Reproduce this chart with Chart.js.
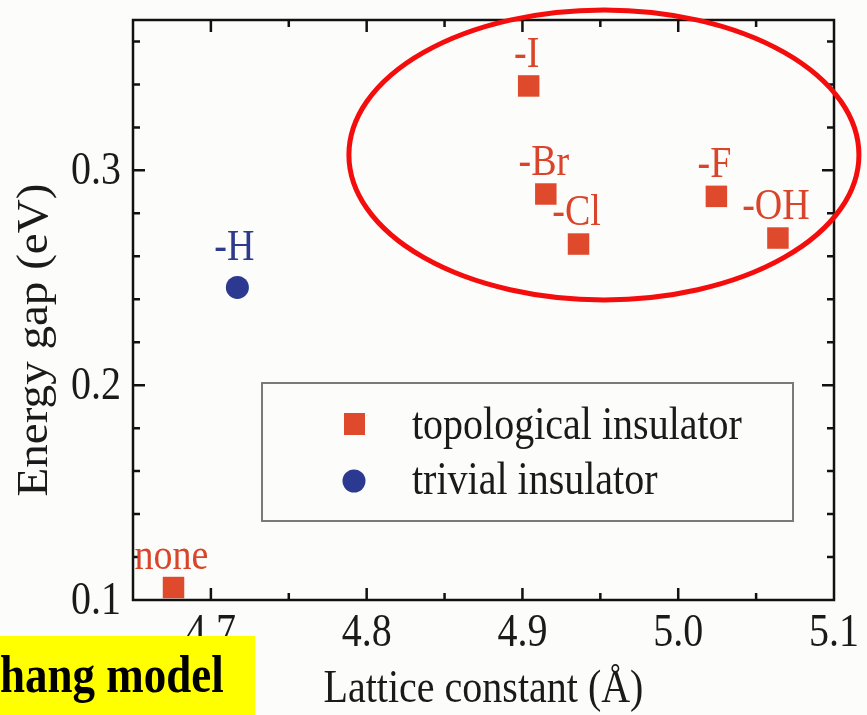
<!DOCTYPE html>
<html>
<head>
<meta charset="utf-8">
<script src="https://cdn.jsdelivr.net/npm/chart.js@4/dist/chart.umd.min.js"></script>
<style>
  html, body { margin: 0; padding: 0; background: #fcfcfa; }
  #wrap { position: relative; width: 867px; height: 715px; }
</style>
</head>
<body>
<div id="wrap"><canvas id="c" width="867" height="715"></canvas></div>
<script>
// values
const topoLabels = ['none', '-I', '-Br', '-Cl', '-F', '-OH'];
const topoLattice = [4.676, 4.904, 4.915, 4.936, 5.0245, 5.064];
const topoGap = [0.1058, 0.3393, 0.289, 0.2657, 0.2879, 0.2685];

const trivialLabels = ['-H'];
const trivialLattice = [4.717];
const trivialGap = [0.2455];

const xMajor = [4.7, 4.8, 4.9, 5.0, 5.1];
const xMinor = [4.75, 4.85, 4.95, 5.05];
const yMajor = [0.1, 0.2, 0.3];
const yMinor = [0.12, 0.14, 0.16, 0.18, 0.22, 0.24, 0.26, 0.28, 0.32, 0.34, 0.36];

// the red ring drawn around the halogen group (data units)
const ringCenter = [4.9523, 0.3072];
const ringRadius = [0.1637, 0.0675];

const RED = '#e04a2c';
const BLUE = '#2b3990';
const SY = 1.18; // the figure is stretched vertically
const FONT = '"Liberation Serif", "Times New Roman", serif';

function text(ctx, str, x, y, align, rotate, sy) {
  ctx.save();
  ctx.translate(x, y);
  ctx.scale(1, sy || SY);
  if (rotate) ctx.rotate(-Math.PI / 2);
  ctx.textAlign = align;
  ctx.textBaseline = 'alphabetic';
  ctx.fillText(str, 0, 0);
  ctx.restore();
}

const figure = {
  id: 'figure',
  beforeDraw(chart) {
    const ctx = chart.ctx;
    ctx.save();
    ctx.fillStyle = '#fcfcfa';
    ctx.fillRect(0, 0, chart.width, chart.height);
    ctx.restore();
  },
  afterDraw(chart) {
    const ctx = chart.ctx;
    const xs = chart.scales.x;
    const ys = chart.scales.y;
    const a = chart.chartArea;

    ctx.save();
    // frame
    ctx.strokeStyle = '#111';
    ctx.lineWidth = 2.5;
    ctx.strokeRect(a.left, a.top, a.right - a.left, a.bottom - a.top);

    // inward ticks on all four sides
    const tick = (vals, len) => {
      vals.forEach((v) => {
        const px = xs.getPixelForValue(v);
        ctx.beginPath();
        ctx.moveTo(px, a.bottom); ctx.lineTo(px, a.bottom - len);
        ctx.moveTo(px, a.top); ctx.lineTo(px, a.top + len);
        ctx.stroke();
      });
    };
    const ytick = (vals, len) => {
      vals.forEach((v) => {
        const py = ys.getPixelForValue(v);
        ctx.beginPath();
        ctx.moveTo(a.left, py); ctx.lineTo(a.left + len, py);
        ctx.moveTo(a.right, py); ctx.lineTo(a.right - len, py);
        ctx.stroke();
      });
    };
    tick(xMajor.filter((v) => v < 5.09), 12);
    tick(xMinor, 7);
    ytick(yMajor.filter((v) => v > 0.11), 12);
    ytick(yMinor, 7);

    // tick labels
    ctx.fillStyle = '#1a1a1a';
    ctx.font = '40px ' + FONT;
    xMajor.forEach((v) => text(ctx, v.toFixed(1), xs.getPixelForValue(v), a.bottom + 46, 'center'));
    yMajor.forEach((v) => text(ctx, v.toFixed(1), a.left - 12, ys.getPixelForValue(v) + 14, 'right'));

    // axis titles
    text(ctx, 'Lattice constant (Å)', (a.left + a.right) / 2, 702, 'center');
    ctx.font = '44px ' + FONT;
    text(ctx, 'Energy gap (eV)', 47, 340, 'center', true, 1.07);

    // point labels
    ctx.font = '38px ' + FONT;
    ctx.fillStyle = '#d9452b';
    topoLabels.forEach((l, i) => {
      text(ctx, l, xs.getPixelForValue(topoLattice[i]) - 2, ys.getPixelForValue(topoGap[i]) - 19, 'center');
    });
    ctx.fillStyle = '#2e3a8c';
    trivialLabels.forEach((l, i) => {
      text(ctx, l, xs.getPixelForValue(trivialLattice[i]) - 3, ys.getPixelForValue(trivialGap[i]) - 27, 'center');
    });

    // legend box
    ctx.strokeStyle = '#7a7a7a';
    ctx.lineWidth = 2;
    ctx.strokeRect(262, 383, 531, 138);
    const ds = chart.data.datasets;
    ctx.fillStyle = ds[0].backgroundColor;
    ctx.fillRect(344, 413, 21, 22);
    ctx.fillStyle = ds[1].backgroundColor;
    ctx.beginPath();
    ctx.arc(354, 481, 11.5, 0, Math.PI * 2);
    ctx.fill();
    ctx.fillStyle = '#1a1a1a';
    ctx.font = '40px ' + FONT;
    text(ctx, ds[0].label, 412, 439, 'left');
    text(ctx, ds[1].label, 412, 494, 'left');

    // red ring
    const cx = xs.getPixelForValue(ringCenter[0]);
    const cy = ys.getPixelForValue(ringCenter[1]);
    const rx = xs.getPixelForValue(ringCenter[0] + ringRadius[0]) - cx;
    const ry = cy - ys.getPixelForValue(ringCenter[1] + ringRadius[1]);
    ctx.strokeStyle = '#f40d0d';
    ctx.lineWidth = 5;
    ctx.beginPath();
    ctx.ellipse(cx, cy, rx, ry, 0, 0, Math.PI * 2);
    ctx.stroke();

    // slide caption overlapping the figure
    ctx.fillStyle = '#ffff00';
    ctx.fillRect(0, 636, 255, 79);
    ctx.fillStyle = '#000';
    ctx.font = 'bold 45px ' + FONT;
    text(ctx, 'hang model', 0, 692, 'left');
    ctx.restore();
  },
};

new Chart(document.getElementById('c'), {
  type: 'scatter',
  data: {
    datasets: [
      {
        label: 'topological insulator',
        data: topoLattice.map((x, i) => ({ x: x, y: topoGap[i] })),
        pointStyle: 'rect',
        pointRadius: 15.2,
        backgroundColor: RED,
        borderWidth: 0,
        clip: false,
      },
      {
        label: 'trivial insulator',
        data: trivialLattice.map((x, i) => ({ x: x, y: trivialGap[i] })),
        pointStyle: 'circle',
        pointRadius: 11.5,
        backgroundColor: BLUE,
        borderWidth: 0,
        clip: false,
      },
    ],
  },
  options: {
    responsive: false,
    animation: false,
    layout: { padding: { left: 133, right: 33, top: 20, bottom: 115 } },
    scales: {
      x: { type: 'linear', min: 4.65, max: 5.1, display: false },
      y: { type: 'linear', min: 0.1, max: 0.37, display: false },
    },
    plugins: {
      legend: { display: false },
      tooltip: { enabled: false },
    },
  },
  plugins: [figure],
});
</script>
</body>
</html>
